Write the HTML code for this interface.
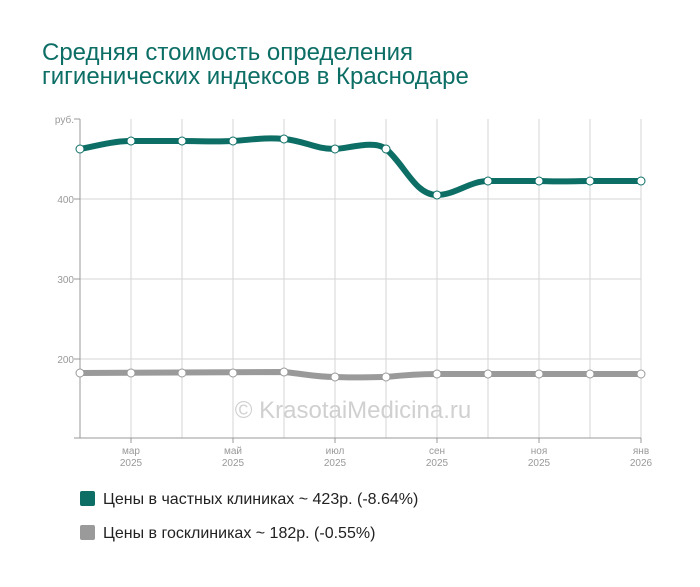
<!DOCTYPE html><html><head><meta charset="utf-8"><style>body{margin:0;background:#fff;font-family:"Liberation Sans",sans-serif}</style></head><body>
<svg width="700" height="582" xmlns="http://www.w3.org/2000/svg" font-family="Liberation Sans, sans-serif">
<text x="42" y="60" font-size="24" fill="#0d6e66">Средняя стоимость определения</text>
<text x="42" y="84" font-size="24" fill="#0d6e66">гигиенических индексов в Краснодаре</text>
<g stroke="#d6d6d6" stroke-width="1">
<line x1="80" y1="199" x2="641" y2="199"/><line x1="80" y1="279" x2="641" y2="279"/><line x1="80" y1="359" x2="641" y2="359"/>
<line x1="131" y1="119" x2="131" y2="438"/><line x1="182" y1="119" x2="182" y2="438"/><line x1="233" y1="119" x2="233" y2="438"/><line x1="284" y1="119" x2="284" y2="438"/><line x1="335" y1="119" x2="335" y2="438"/><line x1="386" y1="119" x2="386" y2="438"/><line x1="437" y1="119" x2="437" y2="438"/><line x1="488" y1="119" x2="488" y2="438"/><line x1="539" y1="119" x2="539" y2="438"/><line x1="590" y1="119" x2="590" y2="438"/><line x1="641" y1="119" x2="641" y2="438"/>
</g>
<g stroke="#999" stroke-width="1">
<line x1="80" y1="119" x2="80" y2="438"/><line x1="80" y1="438" x2="641" y2="438"/>
<line x1="74" y1="119" x2="80" y2="119"/><line x1="74" y1="199" x2="80" y2="199"/><line x1="74" y1="279" x2="80" y2="279"/><line x1="74" y1="359" x2="80" y2="359"/><line x1="74" y1="438" x2="80" y2="438"/>
<line x1="131" y1="438" x2="131" y2="443"/><line x1="233" y1="438" x2="233" y2="443"/><line x1="335" y1="438" x2="335" y2="443"/><line x1="437" y1="438" x2="437" y2="443"/><line x1="539" y1="438" x2="539" y2="443"/><line x1="641" y1="438" x2="641" y2="443"/>
</g>
<g font-size="10" fill="#999" text-anchor="end">
<text x="74" y="123">руб.</text><text x="74" y="203">400</text><text x="74" y="283">300</text><text x="74" y="363">200</text>
</g>
<g font-size="10" fill="#999" text-anchor="middle">
<text x="131" y="454">мар</text><text x="131" y="466">2025</text>
<text x="233" y="454">май</text><text x="233" y="466">2025</text>
<text x="335" y="454">июл</text><text x="335" y="466">2025</text>
<text x="437" y="454">сен</text><text x="437" y="466">2025</text>
<text x="539" y="454">ноя</text><text x="539" y="466">2025</text>
<text x="641" y="454">янв</text><text x="641" y="466">2026</text>
</g>
<text x="353" y="418" font-size="24" fill="#d0d0d0" text-anchor="middle">© KrasotaiMedicina.ru</text>
<path d="M80,149 C100,145 115,141 131,141 C150,141 165,141 182,141 C200,141 215,142 233,141 C250,140 265,137 284,139 C305,141 315,149 335,149 C350,148 375,140 386,149 C405,165 415,195 437,195 C455,195 470,181 488,181 C505,181 520,181 539,181 C560,182 575,181 590,181 L641,181" fill="none" stroke="#0d6e66" stroke-width="6"/>
<path d="M80,373 L284,372 C305,374 315,377 335,377 C355,378 370,377 386,377 C405,375 420,374 437,374 L641,374" fill="none" stroke="#9a9a9a" stroke-width="6"/>
<g fill="#fff" stroke="#0d6e66" stroke-width="1">
<circle cx="80" cy="149" r="4"/><circle cx="131" cy="141" r="4"/><circle cx="182" cy="141" r="4"/><circle cx="233" cy="141" r="4"/><circle cx="284" cy="139" r="4"/><circle cx="335" cy="149" r="4"/><circle cx="386" cy="149" r="4"/><circle cx="437" cy="195" r="4"/><circle cx="488" cy="181" r="4"/><circle cx="539" cy="181" r="4"/><circle cx="590" cy="181" r="4"/><circle cx="641" cy="181" r="4"/>
</g>
<g fill="#fff" stroke="#9a9a9a" stroke-width="1">
<circle cx="80" cy="373" r="4"/><circle cx="131" cy="373" r="4"/><circle cx="182" cy="373" r="4"/><circle cx="233" cy="373" r="4"/><circle cx="284" cy="372" r="4"/><circle cx="335" cy="377" r="4"/><circle cx="386" cy="377" r="4"/><circle cx="437" cy="374" r="4"/><circle cx="488" cy="374" r="4"/><circle cx="539" cy="374" r="4"/><circle cx="590" cy="374" r="4"/><circle cx="641" cy="374" r="4"/>
</g>
<rect x="80" y="491" width="15" height="15" rx="2" fill="#0d6e66"/>
<text x="103" y="504" font-size="16" fill="#222">Цены в частных клиниках ~ 423р. (-8.64%)</text>
<rect x="80" y="525" width="15" height="15" rx="2" fill="#9a9a9a"/>
<text x="103" y="538" font-size="16" fill="#222">Цены в госклиниках ~ 182р. (-0.55%)</text>
</svg></body></html>
